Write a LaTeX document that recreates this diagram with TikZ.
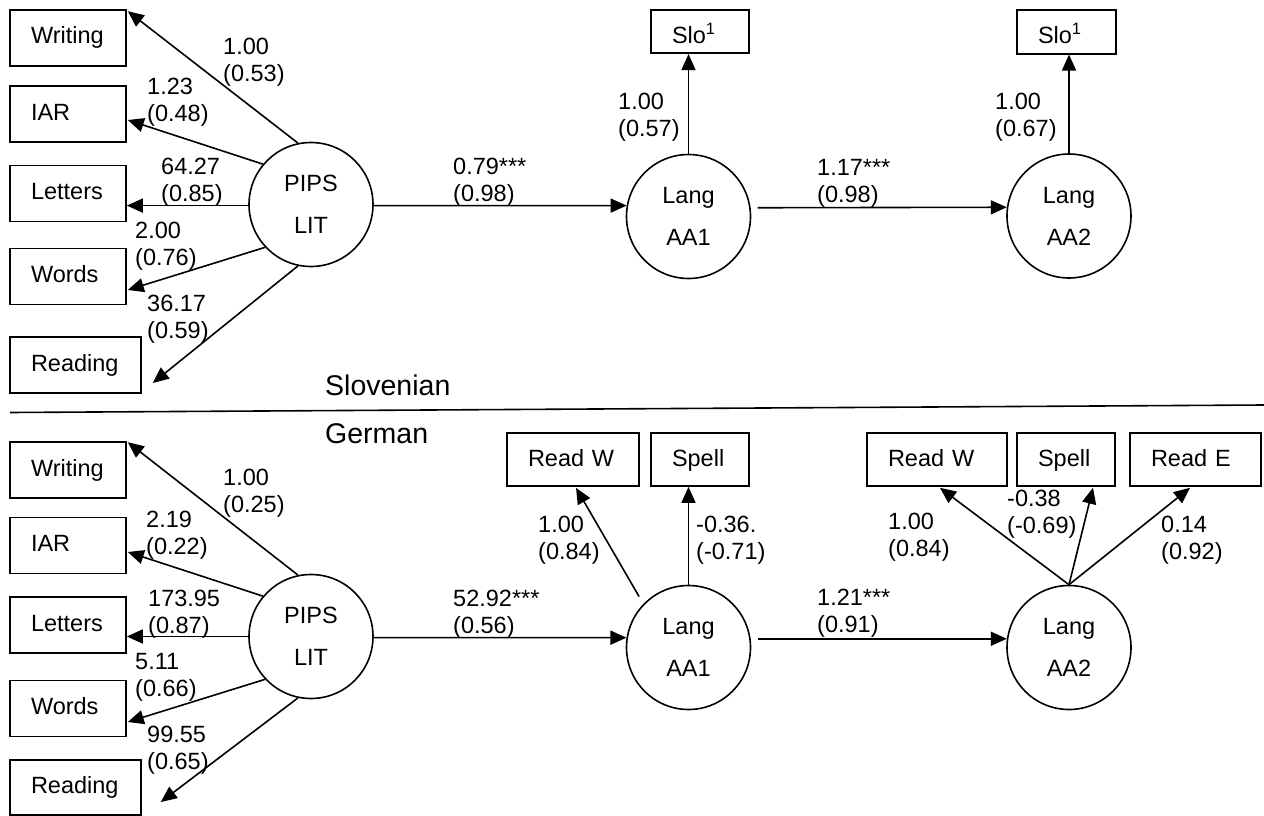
\documentclass[tikz,border=0pt]{standalone}
\usepackage{fontspec}
\setmainfont{Liberation Sans}
\usetikzlibrary{arrows.meta,calc}
\begin{document}
\begin{tikzpicture}[x=1pt,y=-1pt,
  every node/.style={font=\fontsize{23.5}{27}\selectfont},
  obs/.style={draw, line width=1.6pt, rectangle, inner xsep=21pt, inner ysep=0pt,
    minimum height=56pt, text height=17pt, text depth=5pt, align=left, text width=#1},
  slobox/.style={obs=#1, minimum height=43.5pt, text height=26pt, text depth=2.4pt},
  topbox/.style={obs=#1, minimum height=53pt, text height=17pt, text depth=4pt},
  lat/.style={draw, circle, line width=1.6pt, minimum size=124pt, inner sep=0pt, align=center},
  lab/.style={anchor=west, align=left, inner sep=0pt},
  grp/.style={anchor=base west, inner sep=0pt, font=\fontsize{28.5}{34}\selectfont},
  arr/.style={line width=1.6pt, -{Triangle[length=16pt,width=14pt]}},
  sep/.style={line width=1.6pt}
]
\useasboundingbox (0,0) rectangle (1264,816);

% ---------------- Slovenian (top) ----------------
\node[obs=74pt] (w1) at (68,38) {Writing};
\node[obs=74pt] (iar1) at (68,114) {IAR};
\node[obs=74pt] (let1) at (68,193.5) {Letters};
\node[obs=74pt] (wor1) at (68,276.5) {Words};
\node[obs=89pt] (rea1) at (75.5,365) {Reading};

\node[lat] (pips1) at (311,204.5) {PIPS\\[14.5pt]LIT};
\node[lat] (aa11) at (688.5,216.5) {Lang\\[15pt]AA1};
\node[lat] (aa21) at (1069,216) {Lang\\[15pt]AA2};

\node[slobox=56pt] (slo1) at (700,31.5) {Slo\textsuperscript{1}};
\node[slobox=57pt] (slo2) at (1066.5,32) {Slo\textsuperscript{1}};

\draw[arr] (pips1.102) -- ($(w1.north east)+(1,2)$);
\draw[arr] (pips1.140) -- ($(iar1.east)+(1,6)$);
\draw[arr] (pips1.181) -- (pips1.181 -| let1.east);
\draw[arr] (pips1.223) -- ($(wor1.east)+(1,13.5)$);
\draw[arr] (pips1.258) -- ($(rea1.east)+(11,18)$);
\draw[arr] (pips1.359) -- (aa11.170);
\draw[arr] (aa11.90) -- (aa11.90 |- slo1.south);
\draw[arr, shorten <=7pt] (aa11.8) -- (aa21.172);
\draw[arr] (aa21.90) -- (aa21.90 |- slo2.south);

\node[lab] (t1) at (223,62) {1.00\\(0.53)};
\node[lab] (t2) at (147,102) {1.23\\(0.48)};
\node[lab] (t3) at (161,182.5) {64.27\\(0.85)};
\node[lab] (t4) at (135,246) {2.00\\(0.76)};
\node[lab] (t5) at (147,319) {36.17\\(0.59)};
\node[lab] (t6) at (453,182.5) {0.79***\\(0.98)};
\node[lab] (t7) at (618,117.5) {1.00\\(0.57)};
\node[lab] (t8) at (817,183) {1.17***\\(0.98)};
\node[lab] (t9) at (995,117.5) {1.00\\(0.67)};

\node[grp] (slov) at (325,395) {Slovenian};

% separator
\coordinate (sepL) at (10,412.5);
\coordinate (sepR) at (1264,405);
\draw[sep] (sepL) -- (sepR);

\node[grp] (germ) at (325,443.3) {German};

% ---------------- German (bottom) ----------------
\node[obs=74pt] (w2) at (68,470) {Writing};
\node[obs=74pt] (iar2) at (68,545.5) {IAR};
\node[obs=74pt] (let2) at (68,625) {Letters};
\node[obs=74pt] (wor2) at (68,708.5) {Words};
\node[obs=89pt, minimum height=55pt] (rea2) at (75.5,787.5) {Reading};

\node[lat] (pips2) at (311,636.5) {PIPS\\[14.5pt]LIT};
\node[lat] (aa12) at (688.5,647.5) {Lang\\[15pt]AA1};
\node[lat] (aa22) at (1069,647.5) {Lang\\[15pt]AA2};

\node[topbox=90pt] (rw1) at (573,459.5) {Read W};
\node[topbox=56pt] (sp1) at (700,459.5) {Spell};
\node[topbox=98pt] (rw2) at (937,459.5) {Read W};
\node[topbox=56pt] (sp2) at (1066,459.5) {Spell};
\node[topbox=89pt] (re2) at (1195.5,459.5) {Read E};

\draw[arr] (pips2.102) -- ($(w2.north east)+(1,1)$);
\draw[arr] (pips2.140) -- ($(iar2.east)+(1,6.5)$);
\draw[arr] (pips2.180) -- (pips2.180 -| let2.east);
\draw[arr] (pips2.223) -- ($(wor2.east)+(1,13.5)$);
\draw[arr] (pips2.258) -- ($(rea2.east)+(19,14.5)$);
\draw[arr] (pips2.359) -- (aa12.171);
\draw[arr, shorten <=8.5pt] (aa12.136) -- ($(rw1.south)+(3,1)$);
\draw[arr] (aa12.90) -- (aa12.90 |- sp1.south);
\draw[arr, shorten <=7pt] (aa12.8) -- (aa22.172);
\draw[arr] (aa22.90) -- ($(rw2.south)+(3,1)$);
\draw[arr] (aa22.90) -- ($(sp2.south)+(27,1)$);
\draw[arr] (aa22.90) -- ($(re2.south)+(-5.5,1)$);

\node[lab] (b1) at (223,493.5) {1.00\\(0.25)};
\node[lab] (b2) at (146,535) {2.19\\(0.22)};
\node[lab] (b3) at (148,614.5) {173.95\\(0.87)};
\node[lab] (b4) at (135,677.5) {5.11\\(0.66)};
\node[lab] (b5) at (147,750) {99.55\\(0.65)};
\node[lab] (b6) at (453,614.5) {52.92***\\(0.56)};
\node[lab] (b7) at (538,540.5) {1.00\\(0.84)};
\node[lab] (b8) at (696,540.5) {-0.36.\\(-0.71)};
\node[lab] (b9) at (817,613.5) {1.21***\\(0.91)};
\node[lab] (b10) at (888,537.5) {1.00\\(0.84)};
\node[lab] (b11) at (1007,514) {-0.38\\(-0.69)};
\node[lab] (b12) at (1161,540.5) {0.14\\(0.92)};
\end{tikzpicture}
\end{document}
